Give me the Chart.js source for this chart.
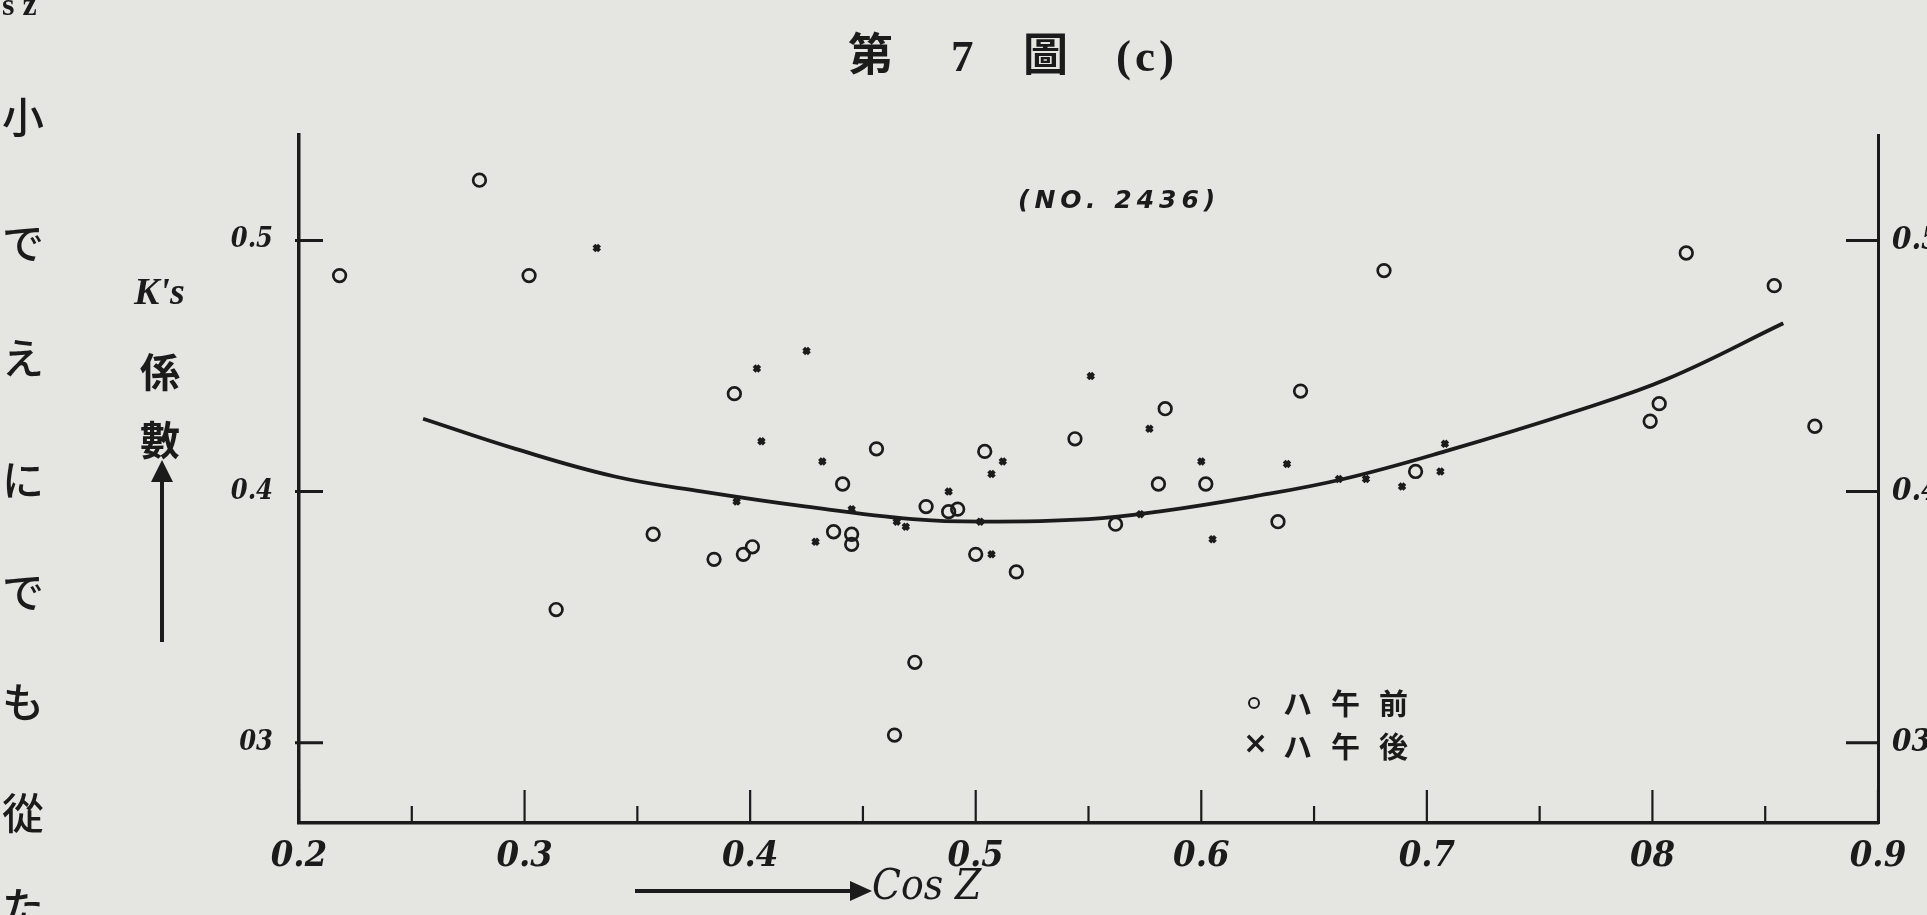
<!DOCTYPE html>
<html lang="ja">
<head>
    <meta charset="UTF-8">
    <title>第7圖 (c)</title>
    <script src="https://cdn.jsdelivr.net/npm/chart.js"></script>
    <style>
        body {
            margin: 0;
            background: #e5e5e2;
            overflow: hidden;
        }
        #page {
            position: relative;
            width: 1927px;
            height: 915px;
            color: #1b1b1b;
            font-family: "Liberation Serif", "Noto Sans CJK JP", serif;
        }
        #page canvas {
            position: absolute;
            left: 0;
            top: 0;
        }
        .txt {
            position: absolute;
            white-space: nowrap;
            line-height: 1;
        }
        .margin {
            left: 2px;
            font-family: "Noto Sans CJK JP", sans-serif;
            font-size: 42px;
            font-weight: 500;
        }
        .title {
            top: 34px;
            font-size: 45px;
            font-weight: bold;
        }
        .ylab {
            font-family: "Noto Sans CJK JP", sans-serif;
            font-size: 40px;
            font-weight: bold;
        }
        .legend {
            font-family: "Noto Sans CJK JP", sans-serif;
            font-size: 29px;
            font-weight: bold;
            letter-spacing: 19px;
        }
        .mark-o {
            position: absolute;
            width: 8px;
            height: 8px;
            border: 2.5px solid #1b1b1b;
            border-radius: 50%;
        }
    </style>
</head>
<body>
<div id="page">
    <canvas id="grafico" width="1927" height="915"></canvas>

    <!-- texto da página ao lado da figura -->
    <div class="txt" style="left:2px; top:-12px; font-size:32px; font-weight:bold;">s z</div>
    <div class="txt margin" style="top:94px;">小</div>
    <div class="txt margin" style="top:220px;">で</div>
    <div class="txt margin" style="top:335px;">え</div>
    <div class="txt margin" style="top:457px;">に</div>
    <div class="txt margin" style="top:569px;">で</div>
    <div class="txt margin" style="top:679px;">も</div>
    <div class="txt margin" style="top:790px;">從</div>
    <div class="txt margin" style="top:884px;">た</div>

    <div class="txt title" style="left:848px;">第</div>
    <div class="txt title" style="left:951px;">7</div>
    <div class="txt title" style="left:1023px;">圖</div>
    <div class="txt title" style="left:1116px; letter-spacing:4px;">(c)</div>

    <div class="txt" style="left:1018px; top:187px; font-size:25px; font-style:italic; font-weight:bold; font-family:'DejaVu Sans', sans-serif; letter-spacing:5px;">(NO. 2436)</div>

    <div class="txt" style="left:134px; top:272px; font-size:38px; font-style:italic; font-weight:bold;">K's</div>
    <div class="txt ylab" style="left:140px; top:350px;">係</div>
    <div class="txt ylab" style="left:140px; top:418px;">數</div>
    <div style="position:absolute; left:160px; top:478px; width:4px; height:164px; background:#1b1b1b;"></div>
    <div style="position:absolute; left:151px; top:460px; width:0; height:0; border-left:11px solid transparent; border-right:11px solid transparent; border-bottom:22px solid #1b1b1b;"></div>

    <div style="position:absolute; left:635px; top:889px; width:217px; height:4px; background:#1b1b1b;"></div>
    <div style="position:absolute; left:850px; top:881px; width:0; height:0; border-top:10px solid transparent; border-bottom:10px solid transparent; border-left:22px solid #1b1b1b;"></div>
    <div class="txt" style="left:872px; top:864px; font-size:42px; font-style:italic; font-family:'DejaVu Serif Condensed', serif;">Cos Z</div>

    <div class="mark-o" style="left:1248px; top:697px;"></div>
    <div class="txt legend" style="left:1283px; top:688px;">ハ午前</div>
    <div class="txt" style="left:1243px; top:728px; font-size:30px; font-weight:bold; font-family:'DejaVu Sans', sans-serif;">×</div>
    <div class="txt legend" style="left:1283px; top:731px;">ハ午後</div>
</div>

<script>
    const tinta = '#1b1b1b';

    // ハ午前 (círculos)
    const amX = [0.218, 0.280, 0.302, 0.314, 0.357, 0.384, 0.397, 0.401, 0.393, 0.441, 0.437, 0.445,
                 0.445, 0.456, 0.478, 0.473, 0.464, 0.488, 0.492, 0.500, 0.504, 0.518, 0.544, 0.562,
                 0.581, 0.584, 0.602, 0.634, 0.644, 0.681, 0.695, 0.799, 0.803, 0.815, 0.854, 0.872];
    const amY = [0.486, 0.524, 0.486, 0.353, 0.383, 0.373, 0.375, 0.378, 0.439, 0.403, 0.384, 0.383,
                 0.379, 0.417, 0.394, 0.332, 0.303, 0.392, 0.393, 0.375, 0.416, 0.368, 0.421, 0.387,
                 0.403, 0.433, 0.403, 0.388, 0.440, 0.488, 0.408, 0.428, 0.435, 0.495, 0.482, 0.426];

    // ハ午後 (cruzes)
    const pmX = [0.332, 0.403, 0.405, 0.425, 0.432, 0.394, 0.445, 0.429, 0.465, 0.469, 0.488, 0.502, 0.507,
                 0.512, 0.507, 0.551, 0.573, 0.577, 0.600, 0.605, 0.638, 0.661, 0.673, 0.689, 0.706, 0.708];
    const pmY = [0.497, 0.449, 0.420, 0.456, 0.412, 0.396, 0.393, 0.380, 0.388, 0.386, 0.400, 0.388, 0.407,
                 0.412, 0.375, 0.446, 0.391, 0.425, 0.412, 0.381, 0.411, 0.405, 0.405, 0.402, 0.408, 0.419];

    // curva ajustada
    const curvaX = [0.255, 0.296, 0.340, 0.379, 0.425, 0.472, 0.503, 0.550, 0.581, 0.623, 0.663, 0.708, 0.766, 0.807, 0.858];
    const curvaY = [0.429, 0.417, 0.406, 0.400, 0.394, 0.389, 0.388, 0.389, 0.392, 0.398, 0.405, 0.416, 0.432, 0.445, 0.467];

    // eixos
    const xTicks = [0.2, 0.3, 0.4, 0.5, 0.6, 0.7, 0.8, 0.9];
    const xTickLabels = ['0.2', '0.3', '0.4', '0.5', '0.6', '0.7', '08', '0.9'];
    const xMinor = [0.25, 0.35, 0.45, 0.55, 0.65, 0.75, 0.85];
    const yTicks = [0.3, 0.4, 0.5];
    const yTickLabels = ['03', '0.4', '0.5'];

    function pontos(xs, ys) {
        return xs.map((x, i) => ({x: x, y: ys[i]}));
    }

    // marcas voltadas para dentro, como no desenho original
    const marcasInternas = {
        id: 'marcasInternas',
        afterDatasetsDraw(chart) {
            const ctx = chart.ctx;
            const area = chart.chartArea;
            const sx = chart.scales.x;
            const sy = chart.scales.y;
            ctx.save();
            ctx.strokeStyle = tinta;
            ctx.lineWidth = 2.2;
            ctx.beginPath();
            xTicks.forEach(v => {
                const px = sx.getPixelForValue(v);
                ctx.moveTo(px, area.bottom);
                ctx.lineTo(px, area.bottom - 33);
            });
            xMinor.forEach(v => {
                const px = sx.getPixelForValue(v);
                ctx.moveTo(px, area.bottom);
                ctx.lineTo(px, area.bottom - 17);
            });
            ctx.stroke();
            ctx.lineWidth = 3;
            ctx.beginPath();
            yTicks.forEach(v => {
                const py = sy.getPixelForValue(v);
                ctx.moveTo(area.left - 4, py);
                ctx.lineTo(area.left + 24, py);
                ctx.moveTo(area.right, py);
                ctx.lineTo(area.right - 32, py);
            });
            ctx.stroke();
            ctx.restore();
        }
    };

    const fonteEixo = {family: "'DejaVu Serif Condensed', serif", style: 'italic', weight: 'bold', size: 36};
    const fonteY = {family: "'DejaVu Serif Condensed', serif", style: 'italic', weight: 'bold', size: 27};

    new Chart(document.getElementById('grafico'), {
        type: 'scatter',
        data: {
            datasets: [
                {
                    label: 'curva',
                    data: pontos(curvaX, curvaY),
                    showLine: true,
                    borderColor: tinta,
                    borderWidth: 3.8,
                    tension: 0.4,
                    pointRadius: 0
                },
                {
                    label: 'ハ午前',
                    data: pontos(amX, amY),
                    pointStyle: 'circle',
                    pointRadius: 6.3,
                    borderWidth: 2.7,
                    borderColor: tinta,
                    backgroundColor: 'rgba(0,0,0,0)'
                },
                {
                    label: 'ハ午後',
                    data: pontos(pmX, pmY),
                    pointStyle: 'crossRot',
                    pointRadius: 4,
                    borderWidth: 4,
                    borderColor: tinta
                }
            ]
        },
        options: {
            responsive: false,
            animation: false,
            devicePixelRatio: 1,
            layout: {padding: {top: 135}},
            plugins: {legend: {display: false}, tooltip: {enabled: false}},
            scales: {
                x: {
                    type: 'linear',
                    position: 'bottom',
                    min: 0.2,
                    max: 0.9,
                    grid: {display: false, drawTicks: false},
                    border: {display: true, color: tinta, width: 3.5},
                    afterBuildTicks: s => { s.ticks = xTicks.map(v => ({value: v})); },
                    afterFit: s => { s.height = 92; },
                    ticks: {
                        color: tinta,
                        font: fonteEixo,
                        padding: 12,
                        maxRotation: 0,
                        callback: (v, i) => xTickLabels[i]
                    }
                },
                y: {
                    type: 'linear',
                    position: 'left',
                    min: 0.268,
                    max: 0.542,
                    grid: {display: false, drawTicks: false},
                    border: {display: true, color: tinta, width: 3.5},
                    afterBuildTicks: s => { s.ticks = yTicks.map(v => ({value: v})); },
                    afterFit: s => { s.width = 299; },
                    ticks: {
                        color: tinta,
                        font: fonteY,
                        padding: 26,
                        callback: (v, i) => yTickLabels[i]
                    }
                },
                y2: {
                    type: 'linear',
                    position: 'right',
                    min: 0.268,
                    max: 0.542,
                    grid: {display: false, drawTicks: false},
                    border: {display: true, color: tinta, width: 3},
                    afterBuildTicks: s => { s.ticks = yTicks.map(v => ({value: v})); },
                    afterFit: s => { s.width = 49; },
                    ticks: {
                        color: tinta,
                        font: {family: fonteY.family, style: 'italic', weight: 'bold', size: 31},
                        padding: 14,
                        callback: (v, i) => yTickLabels[i]
                    }
                }
            }
        },
        plugins: [marcasInternas]
    });
</script>
</body>
</html>
